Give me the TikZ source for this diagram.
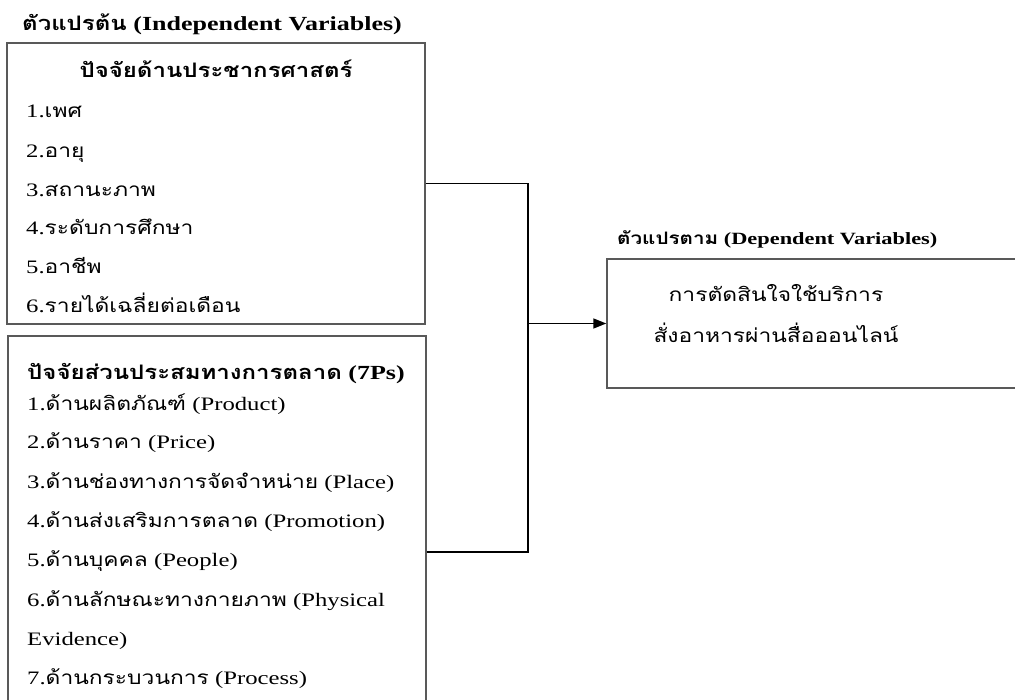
\documentclass[tikz,border=0pt]{standalone}
\usepackage{fontspec}
\setmainfont{Liberation Serif}[FakeStretch=1.3]
\newfontfamily\tf[Script=Thai,FakeStretch=1.2]{Loma}
\usetikzlibrary{arrows.meta}
\begin{document}
\begin{tikzpicture}[x=1pt,y=-1pt,
  box/.style={draw=black!65,line width=1.4pt,inner sep=0pt},
  txt/.style={inner sep=0pt,anchor=base west,font=\fontsize{19}{19}\selectfont},
  btxt/.style={inner sep=0pt,anchor=base west,font=\fontsize{20}{20}\selectfont\bfseries},
  ctxt/.style={inner sep=0pt,anchor=base,font=\fontsize{19}{19}\selectfont},
  conn/.style={draw=black,line width=1.4pt},
  arr/.style={conn,-{Triangle[length=13pt,width=10pt]}}]
\useasboundingbox (0,0) rectangle (1015,700);
\clip (0,0) rectangle (1015,700);
% boxes
\node[box,minimum width=418pt,minimum height=281pt] (b1) at (216,183.5) {};
\node[box,minimum width=418pt,minimum height=432pt] (b2) at (217,552) {};
\node[box,minimum width=500pt,minimum height=129pt] (rb) at (857,323.5) {};
% titles
\node[btxt] (t1) at (22,31) {{\tf ตัวแปรต้น} (Independent Variables)};
\node[btxt,font=\fontsize{17.2}{17.2}\selectfont\bfseries] (t2) at (617,245) {{\tf ตัวแปรตาม} (Dependent Variables)};
% box 1
\node[btxt,anchor=base] (h1) at (216,78) {\tf ปัจจัยด้านประชากรศาสตร์};
\node[txt] (a1) at (26,118) {1.{\tf เพศ}};
\node[txt] (a2) at (26,158) {2.{\tf อายุ}};
\node[txt] (a3) at (26,197) {3.{\tf สถานะภาพ}};
\node[txt] (a4) at (26,235) {4.{\tf ระดับการศึกษา}};
\node[txt] (a5) at (26,274) {5.{\tf อาชีพ}};
\node[txt] (a6) at (26,313) {6.{\tf รายได้เฉลี่ยต่อเดือน}};
% box 2
\node[btxt] (h2) at (27,380) {{\tf ปัจจัยส่วนประสมทางการตลาด} (7Ps)};
\node[txt] (p1) at (27,411) {1.{\tf ด้านผลิตภัณฑ์} (Product)};
\node[txt] (p2) at (27,449) {2.{\tf ด้านราคา} (Price)};
\node[txt] (p3) at (27,488) {3.{\tf ด้านช่องทางการจัดจำหน่าย} (Place)};
\node[txt] (p4) at (27,527) {4.{\tf ด้านส่งเสริมการตลาด} (Promotion)};
\node[txt] (p5) at (27,566) {5.{\tf ด้านบุคคล} (People)};
\node[txt] (p6) at (27,606) {6.{\tf ด้านลักษณะทางกายภาพ} (Physical};
\node[txt] (p6b) at (27,645) {Evidence)};
\node[txt] (p7) at (27,684) {7.{\tf ด้านกระบวนการ} (Process)};
% right box text
\node[ctxt] (r1) at (776,302) {\tf การตัดสินใจใช้บริการ};
\node[ctxt] (r2) at (776,343) {\tf สั่งอาหารผ่านสื่อออนไลน์};
% connectors
\coordinate (j) at (528,323.5);
\draw[conn] (b1.east) -| (j);
\draw[conn] (b2.east) -| (j);
\draw[arr] (j) -- (rb.west);
\end{tikzpicture}
\end{document}
